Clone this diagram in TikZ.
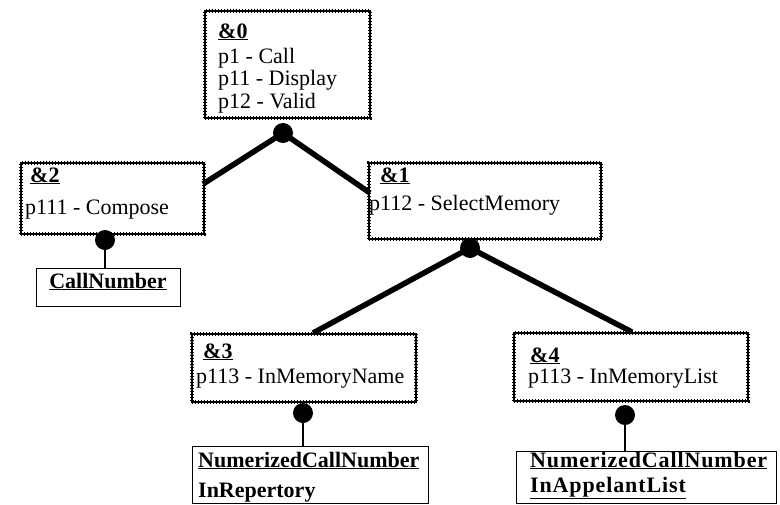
\documentclass[tikz,border=0pt]{standalone}
\usepackage{fontspec}
\setmainfont{Liberation Serif}
\newcommand{\labtxt}[1]{\underline{\textbf{#1}}}
\begin{document}
\begin{tikzpicture}[x=1pt,y=-1pt,
  frame/.style={draw=black, line width=2.3pt,
    postaction={draw=black, line width=3.6pt, dash pattern=on 0.9pt off 2.1pt},
    inner sep=0pt, anchor=north west},
  plainbox/.style={draw=black, line width=1.1pt, inner sep=0pt, anchor=north west},
  txt/.style={anchor=base west, inner sep=0pt, font=\fontsize{22}{26}\selectfont},
  btxt/.style={anchor=base west, inner sep=0pt, font=\fontsize{22}{26}\selectfont\bfseries},
  dot/.style={circle, fill=black, inner sep=0pt, minimum size=20pt},
  thickline/.style={line width=5.5pt},
  thinline/.style={line width=1.1pt}]
\useasboundingbox (0,0) rectangle (780,504);
\fill[white] (0,0) rectangle (780,504);

% boxes
\node[frame, minimum width=165pt, minimum height=107pt] (b0) at (204,10) {};
\node[frame, minimum width=183pt, minimum height=71pt] (b2) at (20,162) {};
\node[frame, minimum width=232pt, minimum height=76pt] (b1) at (368,162) {};
\node[frame, minimum width=224pt, minimum height=68pt] (b3) at (191,333) {};
\node[frame, minimum width=234pt, minimum height=68pt] (b4) at (513,332) {};
\node[plainbox, minimum width=144pt, minimum height=38pt] (cn) at (36,268) {};
\node[plainbox, minimum width=236pt, minimum height=57pt] (n3) at (192,446) {};
\node[plainbox, minimum width=260pt, minimum height=52pt] (n4) at (516,451) {};

% texts
\node[txt] (t0a) at (218,38) {\labtxt{\&0}};
\node[txt] (t0b) at (218,63) {p1 - Call};
\node[txt] (t0c) at (218,85) {p11 - Display};
\node[txt] (t0d) at (218,108) {p12 - Valid};
\node[txt] (t2a) at (30,182) {\labtxt{\&2}};
\node[txt] (t2b) at (25,214) {p111 - Compose};
\node[txt] (t1a) at (380,182) {\labtxt{\&1}};
\node[txt] (t1b) at (369,210) {p112 - SelectMemory};
\node[txt] (t3a) at (203,358) {\labtxt{\&3}};
\node[txt] (t3b) at (196,383) {p113 - InMemoryName};
\node[txt] (t4a) at (530,362) {\labtxt{\&4}};
\node[txt] (t4b) at (528,383) {p113 - InMemoryList};
\node[btxt, anchor=base] (tcn) at (108,288) {\underline{CallNumber}};
\node[btxt] (t5a) at (198,467) {\underline{NumerizedCallNumber}};
\node[btxt] (t5b) at (198,497) {\underline{InRepertory}};
\node[btxt] (t6a) at (530,467) {\addfontfeature{LetterSpace=4}\underline{NumerizedCallNumber}};
\node[btxt] (t6b) at (530,492) {\addfontfeature{LetterSpace=4}\underline{InAppelantList}};

% dots
\node[dot] (d0) at (283,133) {};
\node[dot] (d2) at (105,240) {};
\node[dot] (d1) at (470,248) {};
\node[dot] (d3) at (303,413) {};
\node[dot] (d4) at (625,415) {};

% connector ends
\coordinate (e02) at (203,184);
\coordinate (e01) at (370,193);
\coordinate (e13) at (313,333);
\coordinate (e14) at (632,332);

\draw[thickline] (e02) -- (d0.center) -- (e01);
\draw[thickline] (e13) -- (d1.center) -- (e14);
\draw[thinline] (d2.center) -- (d2.center |- cn.north);
\draw[thinline] (d3.center) -- (d3.center |- n3.north);
\draw[thinline] (d4.center) -- (d4.center |- n4.north);
\end{tikzpicture}
\end{document}
